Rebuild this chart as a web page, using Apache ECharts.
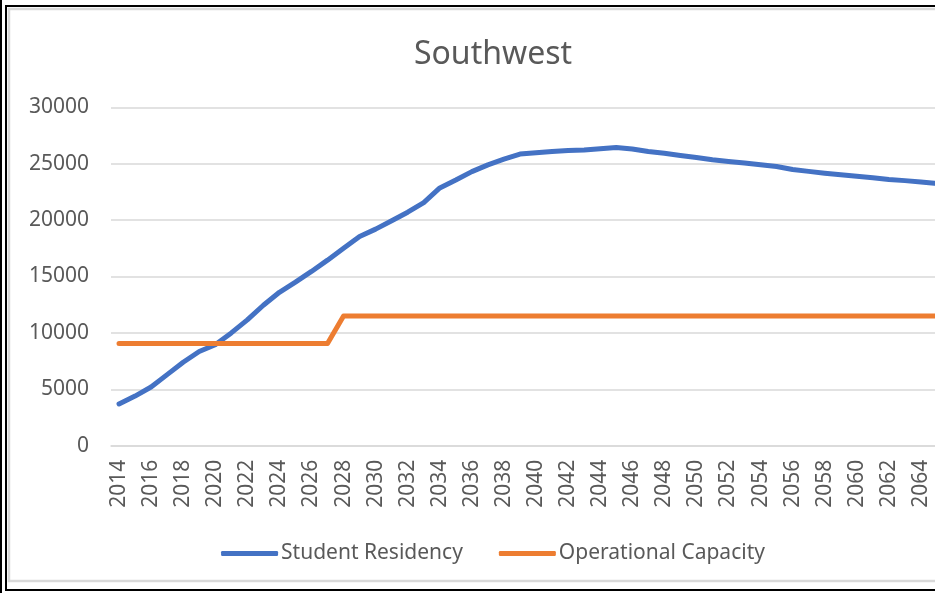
<!DOCTYPE html>
<html>
<head>
<meta charset="utf-8">
<title>Southwest</title>
<script src="https://cdn.jsdelivr.net/npm/echarts@6/dist/echarts.min.js"></script>
<style>
  html, body { margin: 0; padding: 0; background: #ffffff; overflow: hidden; }
  #chart { position: absolute; left: 0; top: 0; width: 986px; height: 593px; }
</style>
</head>
<body>
<div id="chart"></div>
<script>
// Projection years
const years = [];
for (let y = 2014; y <= 2065; y++) years.push(String(y));

// Projected student residency
const studentResidency = [
  3700, 4400, 5200, 6300, 7400, 8350, 8950, 10000, 11150, 12450,
  13600, 14500, 15450, 16450, 17500, 18550, 19200, 19950, 20700, 21550,
  22850, 23550, 24300, 24900, 25400, 25850, 25980, 26080, 26180, 26220,
  26320, 26430, 26300, 26080, 25920, 25720, 25550, 25350, 25200, 25070,
  24900, 24750, 24480, 24320, 24160, 24020, 23880, 23760, 23600, 23500,
  23380, 23250
];

// Operational capacity: step up in 2028
const operationalCapacity = [
  9050, 9050, 9050, 9050, 9050, 9050, 9050, 9050, 9050, 9050,
  9050, 9050, 9050, 9050, 11500, 11500, 11500, 11500, 11500, 11500,
  11500, 11500, 11500, 11500, 11500, 11500, 11500, 11500, 11500, 11500,
  11500, 11500, 11500, 11500, 11500, 11500, 11500, 11500, 11500, 11500,
  11500, 11500, 11500, 11500, 11500, 11500, 11500, 11500, 11500, 11500,
  11500, 11500
];

const seriesNames = ['Student Residency', 'Operational Capacity'];
const yTicks = { min: 0, max: 30000, interval: 5000 };

const FONT = '"Noto Sans", "Open Sans", sans-serif';
const TEXT = '#595959';

const chart = echarts.init(document.getElementById('chart'), null, { renderer: 'canvas' });

chart.setOption({
  backgroundColor: '#ffffff',
  animation: false,
  title: {
    text: 'Southwest',
    left: 'center',
    top: 34,
    textStyle: { fontFamily: FONT, fontSize: 32, fontWeight: 'normal', color: TEXT }
  },
  legend: {
    data: seriesNames,
    left: 'center',
    top: 538,
    icon: 'roundRect',
    itemWidth: 57,
    itemHeight: 5,
    itemGap: 36,
    textStyle: { fontFamily: FONT, fontSize: 21, color: TEXT, padding: [0, 0, 0, -2] }
  },
  grid: { left: 111, top: 107.3, right: 41, height: 338.4, containLabel: false },
  xAxis: {
    type: 'category',
    data: years,
    boundaryGap: true,
    axisLine: { show: true, lineStyle: { color: '#D9D9D9', width: 1.5 } },
    axisTick: { show: false },
    axisLabel: {
      interval: 1,
      rotate: 90,
      margin: 14,
      fontFamily: FONT,
      fontSize: 21,
      color: TEXT
    }
  },
  yAxis: {
    type: 'value',
    min: yTicks.min,
    max: yTicks.max,
    interval: yTicks.interval,
    axisLine: { show: false },
    axisTick: { show: false },
    splitLine: { lineStyle: { color: '#D9D9D9', width: 1.5 } },
    axisLabel: {
      margin: 22,
      fontFamily: FONT,
      fontSize: 21,
      color: TEXT,
      formatter: v => String(v)
    }
  },
  series: [
    {
      name: seriesNames[0],
      type: 'line',
      data: studentResidency,
      symbol: 'none',
      lineStyle: { color: '#4472C4', width: 5, cap: 'round', join: 'round' },
      itemStyle: { color: '#4472C4' }
    },
    {
      name: seriesNames[1],
      type: 'line',
      data: operationalCapacity,
      symbol: 'none',
      lineStyle: { color: '#ED7D31', width: 5, cap: 'round', join: 'round' },
      itemStyle: { color: '#ED7D31' }
    }
  ],
  graphic: [
    // outer window edge
    { type: 'rect', left: 0, top: 0, shape: { x: 0, y: 0, width: 2, height: 593 }, style: { fill: '#000000' }, silent: true },
    // dark frame
    { type: 'rect', shape: { x: 6, y: 6, width: 2000, height: 584 }, style: { fill: null, stroke: '#000000', lineWidth: 2 }, silent: true, z: 100 },
    // chart area border
    { type: 'rect', shape: { x: 9, y: 9, width: 2000, height: 572 }, style: { fill: null, stroke: '#D9D9D9', lineWidth: 2.5 }, silent: true, z: 100 }
  ]
});
</script>
</body>
</html>
